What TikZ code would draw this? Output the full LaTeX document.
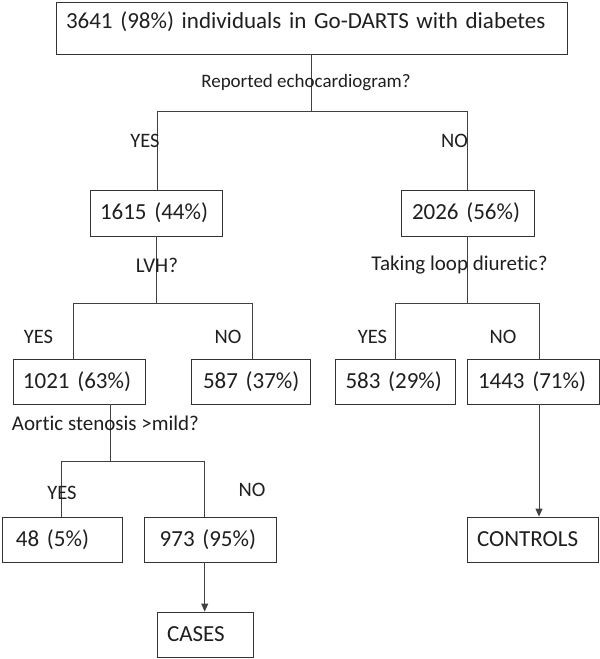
\documentclass[tikz,border=0pt]{standalone}
\usepackage{fontspec}
\setmainfont{Carlito}[Ligatures={NoCommon}]
\usetikzlibrary{arrows.meta}
\begin{document}
\begin{tikzpicture}[x=1pt,y=1pt,
  every node/.style={text=black!88},
  box/.style={draw=black!80, line width=0.9pt, inner xsep=10pt, inner ysep=0pt, align=left,
    font=\fontsize{23}{27}\selectfont},
  lbl/.style={font=\fontsize{19}{22}\selectfont, inner sep=0pt},
  biglbl/.style={lbl, font=\fontsize{21}{24}\selectfont},
  yn/.style={lbl, font=\fontsize{20.5}{24}\selectfont},
  conn/.style={draw=black!75, line width=0.9pt},
  arr/.style={conn, -{Triangle[length=8pt,width=7pt]}}]
\useasboundingbox (0,0) rectangle (600,-659);
% boxes
\node[box, minimum width=511pt, minimum height=52pt, text width=491pt, text depth=15pt] (top) at (311.5,-28) {\mbox{3641 (98\%) individuals in Go-DARTS with diabetes}};
\node[box, minimum height=46pt, text width=112pt] (b1615) at (156,-213) {\mbox{1615 (44\%)}};
\node[box, minimum height=46pt, text width=111pt, inner xsep=11pt] (b2026) at (467.5,-213) {\mbox{2026 (56\%)}};
\node[box, minimum height=45pt, text width=112pt] (b1021) at (79,-381.5) {\mbox{1021 (63\%)}};
\node[box, minimum height=45pt, text width=95pt, inner xsep=12pt] (b587) at (250.5,-381.5) {\mbox{587 (37\%)}};
\node[box, minimum height=45pt, text width=100pt] (b583) at (395.5,-381.5) {\mbox{583 (29\%)}};
\node[box, minimum height=45pt, text width=110pt, inner xsep=11pt] (b1443) at (533,-381.5) {\mbox{1443 (71\%)}};
\node[box, minimum height=45pt, text width=92pt, inner xsep=14pt] (b48) at (62,-539.5) {\mbox{48 (5\%)}};
\node[box, minimum height=45pt, text width=101.6pt, inner xsep=15pt] (b973) at (210.5,-539.5) {\mbox{973 (95\%)}};
\node[box, minimum height=45pt, text width=76pt] (cases) at (205,-634.5) {\mbox{CASES}};
\node[box, minimum height=45pt, text width=111pt] (controls) at (532.5,-539.5) {\mbox{CONTROLS}};
% junction coordinates
\coordinate (h1l) at (157,-111);
\coordinate (h1r) at (467,-111);
\coordinate (h2l) at (73.5,-303);
\coordinate (h2r) at (252.6,-303);
\coordinate (h3l) at (395,-303);
\coordinate (h3r) at (539,-303);
\coordinate (h4l) at (61,-461);
\coordinate (h4r) at (204.7,-461);
\coordinate (h4m) at (110,-461);
% connectors
\draw[conn] (top.south) -- (top.south |- h1l);
\draw[conn] (h1l |- b1615.north) -- (h1l) -- (h1r) -- (h1r |- b2026.north);
\draw[conn] (b1615.south) -- (b1615.south |- h2l);
\draw[conn] (h2l |- b1021.north) -- (h2l) -- (h2r) -- (h2r |- b587.north);
\draw[conn] (b2026.south) -- (b2026.south |- h3l);
\draw[conn] (h3l |- b583.north) -- (h3l) -- (h3r) -- (h3r |- b1443.north);
\draw[conn] (h4m |- b1021.south) -- (h4m);
\draw[conn] (h4l |- b48.north) -- (h4l) -- (h4r) -- (h4r |- b973.north);
\draw[arr] (h4r |- b973.south) -- (h4r |- cases.north);
\draw[arr] (h3r |- b1443.south) -- (h3r |- controls.north);
% labels
\node[lbl] (q1) at (306,-83) {Reported echocardiogram?};
\node[yn] (y1) at (145,-141) {YES};
\node[yn] (n1) at (454.5,-141) {NO};
\node[biglbl] (q2) at (157,-265) {LVH?};
\node[biglbl] (q3) at (459.5,-265) {Taking loop diuretic?};
\node[yn] (y2) at (38.5,-337) {YES};
\node[yn] (n2) at (228,-337) {NO};
\node[yn] (y3) at (372.5,-337) {YES};
\node[yn] (n3) at (503,-337) {NO};
\node[biglbl] (q4) at (105.5,-423) {Aortic stenosis >mild?};
\node[yn] (y4) at (62,-493) {YES};
\node[yn] (n4) at (252,-490) {NO};
\end{tikzpicture}
\end{document}
